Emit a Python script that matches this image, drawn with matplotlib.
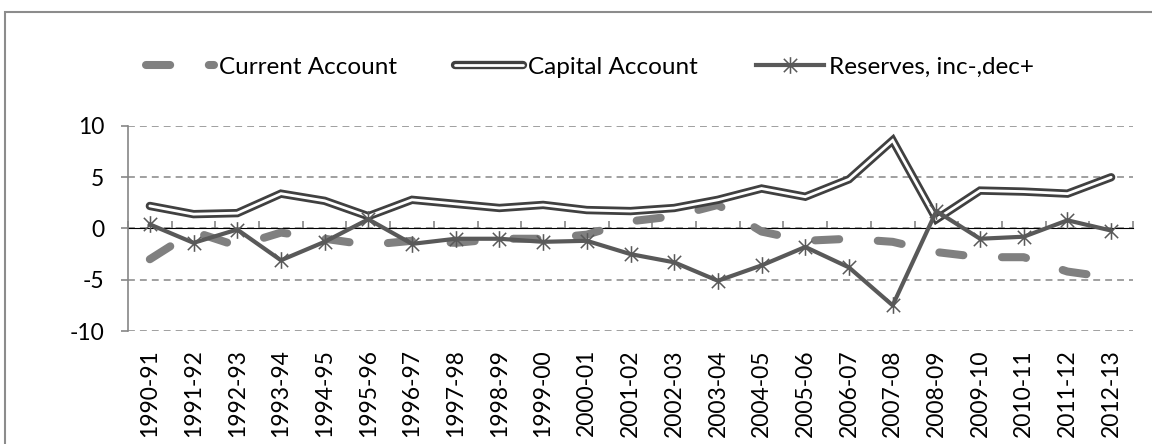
import matplotlib
matplotlib.use("Agg")
import matplotlib.pyplot as plt
from matplotlib.path import Path
from matplotlib.patches import Rectangle

years = ['1990-91', '1991-92', '1992-93', '1993-94', '1994-95', '1995-96',
         '1996-97', '1997-98', '1998-99', '1999-00', '2000-01', '2001-02',
         '2002-03', '2003-04', '2004-05', '2005-06', '2006-07', '2007-08',
         '2008-09', '2009-10', '2010-11', '2011-12', '2012-13']
current_account = [-3.0, -0.3, -1.7, -0.4, -1.0, -1.6, -1.2, -1.4, -1.0, -1.0, -0.6, 0.7,
                   1.2, 2.3, -0.3, -1.2, -1.0, -1.3, -2.3, -2.8, -2.8, -4.2, -4.8]
capital_account = [2.2, 1.4, 1.5, 3.4, 2.7, 1.2, 2.8, 2.4, 2.0, 2.3, 1.8, 1.7,
                   2.0, 2.8, 3.9, 3.1, 4.8, 8.6, 0.9, 3.7, 3.6, 3.4, 5.0]
reserves = [0.4, -1.4, -0.1, -3.1, -1.3, 0.9, -1.5, -1.0, -1.0, -1.3, -1.2, -2.5,
            -3.3, -5.1, -3.6, -1.8, -3.8, -7.5, 1.7, -1.0, -0.8, 0.8, -0.2]

plt.rcParams['font.family'] = ['Lato', 'DejaVu Sans']
plt.rcParams['axes.unicode_minus'] = False
axis_grey = '#868686'

fig = plt.figure(figsize=(11.52, 4.44), dpi=100)
ax = fig.add_axes([128 / 1152, 1 - 331 / 444, 1005 / 1152, 205 / 444])

# chart border (cut off at right and bottom like the source)
fig.patches.append(Rectangle((5 / 1152, -0.1), 1.2, 1.1 - 12 / 444,
                             transform=fig.transFigure, fill=False,
                             edgecolor='#8c8c8c', lw=1.5))

x = list(range(len(years)))

ca, = ax.plot(x, current_account, color='#808080', lw=5.8,
              dashes=(3.0, 4.8), dash_capstyle='round', zorder=3)
cap_out, = ax.plot(x, capital_account, color='#404040', lw=6.0,
                   solid_capstyle='round', solid_joinstyle='miter', zorder=4)
cap_in, = ax.plot(x, capital_account, color='white', lw=2.0,
                  solid_capstyle='round', solid_joinstyle='miter', zorder=4)

star = Path([(-1, -1), (1, 1), (-1, 1), (1, -1), (0, -1.25), (0, 1.25)],
            [Path.MOVETO, Path.LINETO, Path.MOVETO, Path.LINETO, Path.MOVETO, Path.LINETO])
res, = ax.plot(x, reserves, color='#595959', lw=3.0, marker=star, markersize=12,
               markerfacecolor='none', markeredgecolor='#595959', markeredgewidth=1.1,
               zorder=5)

ax.set_xlim(-0.5, len(years) - 0.5)
ax.set_ylim(-10, 10)
ax.set_yticks([-10, -5, 0, 5, 10])
ax.set_xticks(x)
ax.set_xticklabels(years, rotation=90)

for s in ['top', 'right', 'bottom']:
    ax.spines[s].set_visible(False)
ax.spines['left'].set_color(axis_grey)
ax.spines['left'].set_linewidth(1.2)

ax.tick_params(axis='x', length=0, pad=13, labelsize=16.5)
ax.tick_params(axis='y', length=5, width=1.2, color=axis_grey, pad=12, labelsize=16.5)
ax.yaxis.grid(True, color=axis_grey, lw=1.1, linestyle=(0, (4.5, 3.3)))
ax.set_axisbelow(True)

# category axis drawn through zero with tick marks between categories
zero_axis = ax.secondary_xaxis(0.5)
zero_axis.set_xticks([i - 0.5 for i in range(len(years) + 1)])
zero_axis.set_xticklabels([])
zero_axis.tick_params(direction='out', length=5, width=1.2, color=axis_grey)
zero_axis.spines['bottom'].set_color(axis_grey)
zero_axis.spines['bottom'].set_linewidth(1.2)
zero_axis.set_zorder(2)

fig.legend([ca, (cap_out, cap_in), res],
           ['Current Account', 'Capital Account', 'Reserves, inc-,dec+'],
           loc='center', bbox_to_anchor=(590 / 1152, 1 - 67 / 444), ncol=3,
           frameon=False, fontsize=17.5, handlelength=2.8, handletextpad=0.2,
           columnspacing=2.4)

fig.savefig('out.png', dpi=100)
